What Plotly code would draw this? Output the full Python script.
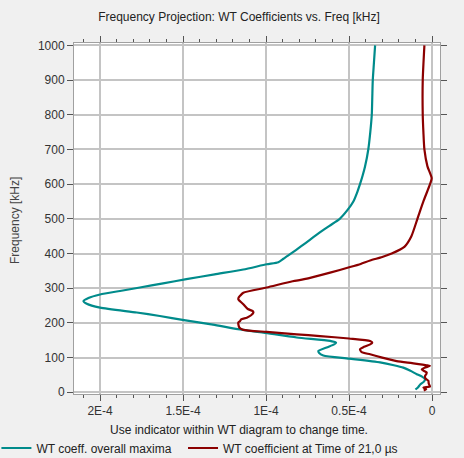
import numpy as np
import plotly.graph_objects as go

# ---- data (values in units of 1E-4) ----
teal_freq = [8, 14, 23, 30, 37, 45, 52, 62, 71, 78, 86, 97, 106, 113, 119, 130, 138, 143, 148,
             158, 172, 182, 195, 208, 220, 230, 244, 255, 263, 272, 282, 292, 302, 314, 326,
             340, 354, 369, 375, 385, 393, 410, 431, 447, 460, 480, 500, 525, 550, 575, 600,
             625, 650, 700, 750, 800, 850, 900, 950, 1000]
teal_val = [0.10, 0.085, 0.07, 0.05, 0.042, 0.06, 0.092, 0.13, 0.173, 0.23, 0.313, 0.50, 0.655,
            0.68, 0.685, 0.63, 0.59, 0.578, 0.614, 0.815, 1.016, 1.17, 1.32, 1.494, 1.64, 1.779,
            2.0, 2.08, 2.10, 2.07, 2.0, 1.88, 1.76, 1.62, 1.48, 1.31, 1.137, 0.996, 0.926, 0.895,
            0.87, 0.82, 0.76, 0.715, 0.678, 0.618, 0.556, 0.51, 0.474, 0.452, 0.434, 0.418,
            0.404, 0.384, 0.372, 0.363, 0.36, 0.357, 0.35, 0.343]

red_freq = [5, 8.6, 13.5, 16.4, 25, 33, 40, 47, 52, 57, 62, 66, 71, 76, 78, 84, 90, 100, 109.5,
            116, 124, 131, 138, 143, 148, 155, 162, 167, 174, 180, 186, 196, 201, 205, 210, 215,
            222, 230, 234, 240, 254, 268, 273, 278, 287, 302, 320, 326, 345, 361, 370, 380, 390,
            400, 420, 449, 500, 553, 600, 617, 652, 700, 750, 800, 900, 1000]
red_val = [0.05, 0.035, 0.052, 0.012, 0.02, 0.022, 0.04, 0.042, 0.035, 0.032, 0.05, 0.062, 0.045,
           0.012, 0.032, 0.12, 0.213, 0.30, 0.373, 0.424, 0.434, 0.41, 0.373, 0.36, 0.373, 0.5,
           0.675, 0.815, 0.996, 1.137, 1.16, 1.167, 1.167, 1.157, 1.15, 1.116, 1.09, 1.076, 1.08,
           1.11, 1.137, 1.167, 1.165, 1.157, 1.137, 0.996, 0.84, 0.77, 0.614, 0.494, 0.43, 0.373,
           0.30, 0.243, 0.165, 0.125, 0.088, 0.05, 0.012, 0.002, 0.028, 0.046, 0.052, 0.056,
           0.056, 0.046]

x_tickvals = [2e-4, 1.5e-4, 1e-4, 0.5e-4, 0]
x_ticktext = ["2E-4", "1.5E-4", "1E-4", "0.5E-4", "0"]

teal_name = "WT coeff. overall maxima"
red_name = "WT coefficient at Time of 21,0 \u00b5s"

scale = 1e-4
FONT = "Liberation Sans, Arial, sans-serif"

fig = go.Figure()
fig.add_trace(go.Scatter(x=np.array(teal_val) * scale, y=teal_freq, mode="lines",
                         name=teal_name + "\u00a0\u00a0", line=dict(color="#008b8b", width=2.2,
                                                   shape="spline", smoothing=0.6)))
fig.add_trace(go.Scatter(x=np.array(red_val) * scale, y=red_freq, mode="lines",
                         name=red_name, line=dict(color="#8b0000", width=2.2,
                                                  shape="spline", smoothing=0.6)))

fig.update_layout(
    width=464, height=458,
    margin=dict(l=74, r=24, t=43, b=64, autoexpand=False),
    paper_bgcolor="#f0f0f0", plot_bgcolor="#ffffff",
    font=dict(family=FONT, size=12, color="#333333"),
    title=dict(text="Frequency Projection: WT Coefficients vs. Freq [kHz]",
               x=239 / 464, xanchor="center", y=1 - 17 / 458, yanchor="middle",
               font=dict(family=FONT, size=12, color="#222222")),
    showlegend=True,
    legend=dict(orientation="h", x=-0.212, xanchor="left", y=(394 - 448) / 351,
                yanchor="middle", bgcolor="rgba(0,0,0,0)", itemwidth=30,
                font=dict(family=FONT, size=12, color="#222222")),
)

fig.update_xaxes(
    range=[2.157e-4, -0.048e-4],
    tickmode="array", tickvals=x_tickvals, ticktext=x_ticktext,
    ticks="outside", ticklen=6, tickwidth=1, tickcolor="#555555",
    showgrid=True, gridcolor="#c4c4c4", gridwidth=2,
    showline=True, linecolor="#a0a0a0", linewidth=1, mirror="allticks",
    zeroline=False,
    minor=dict(tickmode="linear", tick0=0, dtick=1e-5, ticks="outside", ticklen=3,
               tickcolor="#555555", showgrid=False),
    tickfont=dict(family=FONT, size=12, color="#333333"),
)
fig.update_yaxes(
    range=[-5, 1007],
    tickmode="linear", tick0=0, dtick=100,
    ticks="outside", ticklen=6, tickwidth=1, tickcolor="#555555",
    showgrid=True, gridcolor="#c4c4c4", gridwidth=2,
    showline=True, linecolor="#a0a0a0", linewidth=1, mirror="ticks",
    zeroline=False,
    tickfont=dict(family=FONT, size=12, color="#333333"),
)

fig.add_annotation(text="Use indicator within WT diagram to change time.",
                   xref="paper", yref="paper", x=(239 - 74) / 366, y=(394 - 430) / 351,
                   xanchor="center", yanchor="middle", showarrow=False,
                   font=dict(family=FONT, size=12, color="#222222"))
fig.add_annotation(text="Frequency [kHz]", textangle=-90,
                   xref="paper", yref="paper", x=(15 - 74) / 366, y=(394 - 220) / 351,
                   xanchor="center", yanchor="middle", showarrow=False,
                   font=dict(family=FONT, size=12, color="#444444"))

fig.write_html("out.html")
